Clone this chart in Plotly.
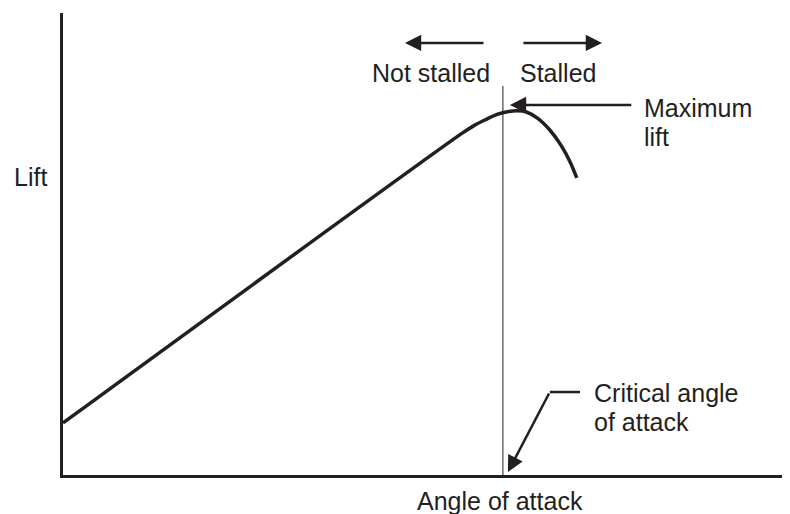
import plotly.graph_objects as go

# Lift curve (angle of attack in deg, lift coefficient)
angle = [0.0, 13.6, 14.0, 14.4, 14.8, 15.2, 15.5, 15.8, 16.2, 16.6, 17.0, 17.3, 17.52]
lift = [0.214, 1.404, 1.435, 1.460, 1.482, 1.494, 1.497, 1.492, 1.465, 1.418, 1.352, 1.285, 1.221]

CRITICAL_ANGLE = 15.0
X_RANGE = [0, 24.79]
Y_RANGE = [0, 1.899]

INK = "#231f20"
FONT = dict(family="Liberation Sans, Arial, Helvetica, sans-serif", size=25, color=INK)

fig = go.Figure()

fig.add_trace(go.Scatter(
    x=angle, y=lift, mode="lines",
    line=dict(color=INK, width=3.5, shape="spline", smoothing=0.8),
    hoverinfo="skip", showlegend=False,
))

# thin vertical line at the critical angle
fig.add_shape(type="line", x0=CRITICAL_ANGLE, x1=CRITICAL_ANGLE, y0=0, y1=1.599,
              line=dict(color=INK, width=1))
# leader of the "critical angle" label
fig.add_shape(type="line", x0=16.60, x1=17.63, y0=0.341, y1=0.341,
              line=dict(color=INK, width=2.5))


def arrow(x, y, ax, ay):
    fig.add_annotation(x=x, y=y, ax=ax, ay=ay, xref="x", yref="y", axref="x", ayref="y",
                       text="", showarrow=True, arrowhead=2, arrowsize=1.3,
                       arrowwidth=2.5, arrowcolor=INK, standoff=0)


arrow(11.66, 1.776, 14.39, 1.776)   # not stalled
arrow(18.38, 1.776, 15.65, 1.776)   # stalled
arrow(15.24, 1.521, 19.43, 1.521)   # maximum lift
arrow(15.17, 0.012, 16.60, 0.341)   # critical angle

labels = [
    dict(text="Not stalled", x=12.55, y=1.652, xanchor="center"),
    dict(text="Stalled", x=16.88, y=1.652, xanchor="center"),
    dict(text="Maximum", x=19.84, y=1.508, xanchor="left", xshift=-3),
    dict(text="lift", x=19.84, y=1.389, xanchor="left", xshift=-3),
    dict(text="Critical angle", x=18.14, y=0.337, xanchor="left", xshift=-3),
    dict(text="of attack", x=18.14, y=0.218, xanchor="left", xshift=-3),
]
for lab in labels:
    fig.add_annotation(xref="x", yref="y", showarrow=False, font=FONT, yanchor="middle", **lab)

fig.add_annotation(text="Lift", xref="paper", yref="y", x=0, y=1.225, xanchor="right",
                   xshift=-14, showarrow=False, font=FONT)
fig.add_annotation(text="Angle of attack", xref="x", yref="y", x=CRITICAL_ANGLE - 0.1, y=0,
                   yanchor="top", yshift=-10, showarrow=False, font=FONT)

axis = dict(showline=True, linecolor=INK, linewidth=2.5, showgrid=False, zeroline=False,
            showticklabels=False, ticks="", fixedrange=True)
fig.update_xaxes(range=X_RANGE, **axis)
fig.update_yaxes(range=Y_RANGE, **axis)

# page body keeps an 8px margin, so the figure is 8px smaller on each side
fig.update_layout(
    width=782, height=506,
    margin=dict(l=55, r=0, t=5, b=39),
    plot_bgcolor="white", paper_bgcolor="white",
    font=FONT,
)

fig.write_html("out.html")
